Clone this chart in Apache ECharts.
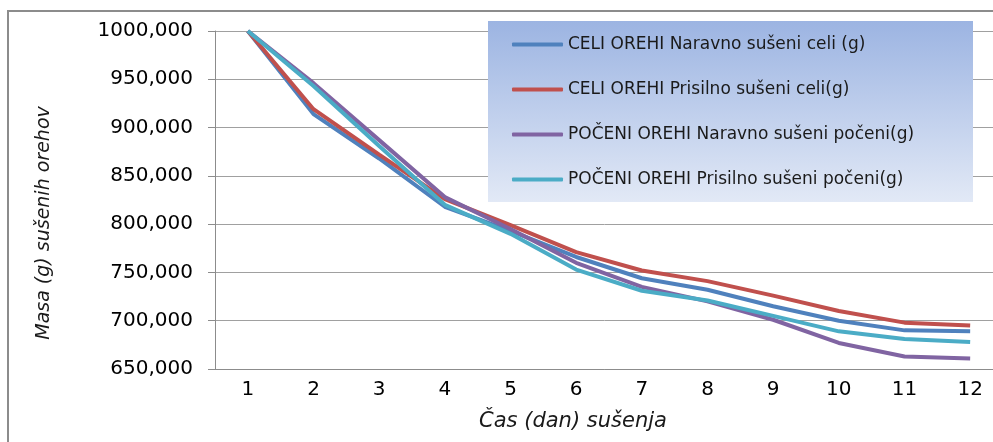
<!DOCTYPE html>
<html>
<head>
<meta charset="utf-8">
<script src="https://cdn.jsdelivr.net/npm/echarts@6/dist/echarts.min.js"></script>
<style>
html, body { margin: 0; padding: 0; background: #fff; }
#main { width: 993px; height: 442px; }
</style>
</head>
<body>
<div id="main"></div>
<script>
// dnevi susenja
var days = ['1', '2', '3', '4', '5', '6', '7', '8', '9', '10', '11', '12'];

var seriesNames = [
    'CELI OREHI Naravno sušeni celi (g)',
    'CELI OREHI Prisilno sušeni celi(g)',
    'POČENI OREHI Naravno sušeni počeni(g)',
    'POČENI OREHI Prisilno sušeni počeni(g)'
];

var celiNaravno = [1000, 914, 868, 818, 793, 766, 744, 732, 715, 700, 690, 689];
var celiPrisilno = [1000, 919, 872, 826, 799, 771, 752, 741, 726, 710, 698, 695];
var poceniNaravno = [1000, 946, 887, 828, 795, 760, 735, 720, 701, 677, 663, 661];
var poceniPrisilno = [1000, 943, 881, 820, 790, 753, 731, 721, 705, 689, 681, 678];

var yMin = 650, yMax = 1000, yStep = 50;

var colors = ['#4F81BD', '#C0504D', '#8064A2', '#4BACC6'];
var allData = [celiNaravno, celiPrisilno, poceniNaravno, poceniPrisilno];

var chart = echarts.init(document.getElementById('main'));

var option = {
    animation: false,
    color: colors,
    grid: {
        left: 215,
        top: 31,
        width: 788,
        bottom: 73,
        outerBoundsMode: 'none'
    },
    graphic: [
        {
            type: 'rect',
            z: 1,
            shape: { x: 8, y: 11, width: 1100, height: 600 },
            style: { fill: 'none', stroke: '#8c8c8c', lineWidth: 2 }
        },
        {
            type: 'rect',
            z: 1,
            shape: { x: 488, y: 21, width: 485, height: 181 },
            style: {
                fill: {
                    type: 'linear', x: 0, y: 0, x2: 0, y2: 1,
                    colorStops: [
                        { offset: 0, color: '#9cb4e2' },
                        { offset: 1, color: '#e2e9f6' }
                    ]
                }
            }
        }
    ],
    legend: {
        orient: 'vertical',
        left: 512,
        top: 36,
        padding: 0,
        icon: 'roundRect',
        itemWidth: 51,
        itemHeight: 4,
        itemGap: 28,
        z: 4,
        textStyle: {
            fontFamily: 'DejaVu Sans',
            fontSize: 17,
            color: '#1a1a1a'
        },
        data: seriesNames
    },
    xAxis: {
        type: 'category',
        data: days,
        name: 'Čas (dan) sušenja',
        nameLocation: 'middle',
        nameGap: 42,
        nameTextStyle: {
            fontFamily: 'DejaVu Sans',
            fontStyle: 'italic',
            fontSize: 21,
            color: '#1a1a1a',
            padding: [0, 72, 0, 0]
        },
        axisLine: { lineStyle: { color: '#8c8c8c', width: 1 } },
        axisTick: { length: 7, lineStyle: { color: '#8c8c8c' } },
        axisLabel: {
            margin: 11,
            fontFamily: 'DejaVu Sans',
            fontSize: 20,
            color: '#000'
        }
    },
    yAxis: {
        type: 'value',
        min: yMin,
        max: yMax,
        interval: yStep,
        name: 'Masa (g) sušenih orehov',
        nameLocation: 'middle',
        nameGap: 161,
        nameTextStyle: {
            fontFamily: 'DejaVu Sans',
            fontStyle: 'italic',
            fontSize: 19,
            color: '#1a1a1a',
            padding: [0, 46, 0, 0]
        },
        axisLine: { show: true, lineStyle: { color: '#8c8c8c', width: 1 } },
        axisTick: { show: true, length: 7, lineStyle: { color: '#8c8c8c' } },
        splitLine: { lineStyle: { color: '#a0a0a0', width: 1 } },
        axisLabel: {
            margin: 22,
            fontFamily: 'DejaVu Sans',
            fontSize: 20,
            color: '#000',
            formatter: function (v) { return v + ',000'; }
        }
    },
    series: seriesNames.map(function (name, i) {
        return {
            name: name,
            type: 'line',
            data: allData[i],
            symbol: 'none',
            z: 2 + i,
            lineStyle: { width: 4, color: colors[i] }
        };
    })
};

chart.setOption(option);
</script>
</body>
</html>
